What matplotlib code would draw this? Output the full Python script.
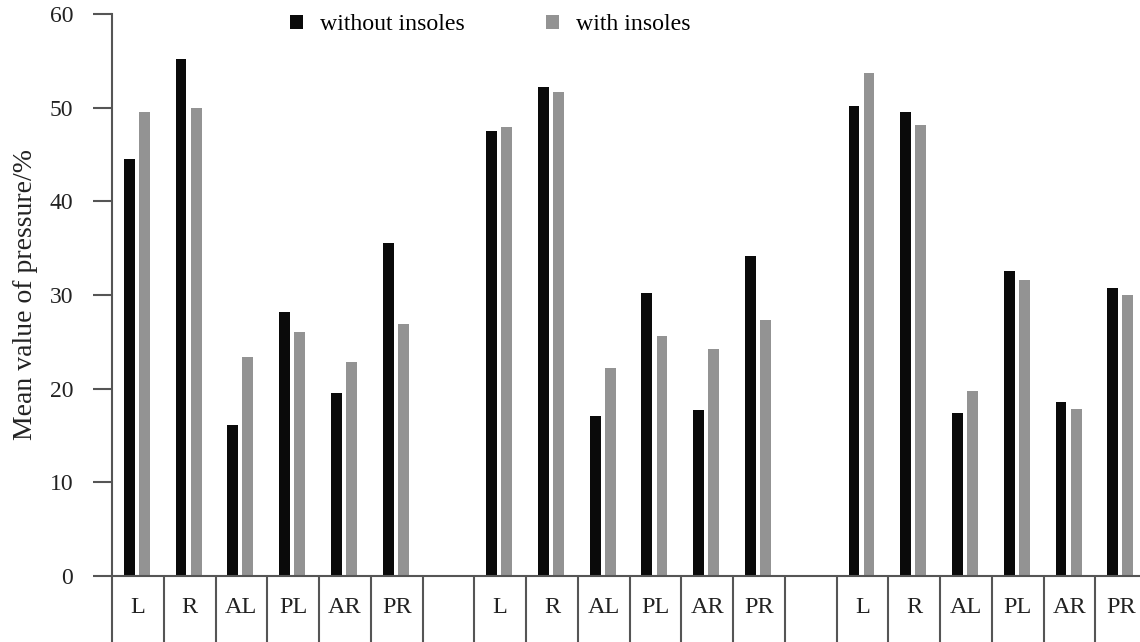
import matplotlib
matplotlib.use("Agg")
import matplotlib.pyplot as plt
import matplotlib.transforms as mtransforms

plt.rcParams['font.family'] = ['Liberation Serif', 'DejaVu Serif']

# three groups of six regions, one blank cell between groups
regions = ["L", "R", "AL", "PL", "AR", "PR"]
without_insoles = [
    [44.5, 55.2, 16.1, 28.2, 19.5, 35.5],
    [47.5, 52.2, 17.1, 30.2, 17.7, 34.2],
    [50.2, 49.5, 17.4, 32.6, 18.6, 30.7],
]
with_insoles = [
    [49.5, 50.0, 23.4, 26.0, 22.9, 26.9],
    [47.9, 51.7, 22.2, 25.6, 24.2, 27.3],
    [53.7, 48.1, 19.8, 31.6, 17.8, 30.0],
]
yticks = [0, 10, 20, 30, 40, 50, 60]

black = "#0a0a0a"
grey = "#939393"
axis_col = "#555555"

fig = plt.figure(figsize=(11.4, 6.42), dpi=100)
ax = fig.add_axes([112 / 1140, 66 / 642, 1028 / 1140, 562 / 642])

pos = []
labels = []
for g in range(3):
    for j, r in enumerate(regions):
        pos.append(g * 7 + j)
        labels.append(r)
wo = [v for grp in without_insoles for v in grp]
wi = [v for grp in with_insoles for v in grp]

w = 0.21
b1 = ax.bar([p - 0.166 for p in pos], wo, width=w, color=black, label="without insoles")
b2 = ax.bar([p + 0.125 for p in pos], wi, width=w, color=grey, label="with insoles")

ax.set_xlim(-0.5, 19.36)
ax.set_ylim(0, 60)
ax.set_yticks(yticks)
ax.set_xticks([])

for s in ["top", "right"]:
    ax.spines[s].set_visible(False)
for s in ["left", "bottom"]:
    ax.spines[s].set_color(axis_col)
    ax.spines[s].set_linewidth(1.5)
ax.tick_params(axis="y", direction="out", length=14, width=1.5, color=axis_col,
               pad=14, labelsize=17, labelcolor="#222222")

# table cells under the axis
trans = mtransforms.blended_transform_factory(ax.transData, ax.transAxes)
bounds = [k - 0.5 for k in range(20)]
ax.vlines(bounds, -0.125, 0, transform=trans, colors=axis_col, linewidth=1.5, clip_on=False)
for p, lab in zip(pos, labels):
    ax.text(p, -0.056, lab, transform=trans, ha="center", va="center",
            fontsize=17.5, color="#222222")

ax.set_ylabel("Mean value of pressure/%", fontsize=20, color="#222222", labelpad=8)

ax.legend(handles=[b1, b2], loc="upper left", bbox_to_anchor=(276 / 1140, 1.0),
          bbox_transform=fig.transFigure, ncol=2, frameon=False, fontsize=17.2,
          handlelength=0.55, handleheight=0.55, handletextpad=0.7, columnspacing=3.4,
          borderaxespad=0.2)

fig.savefig("out.png", dpi=100)
